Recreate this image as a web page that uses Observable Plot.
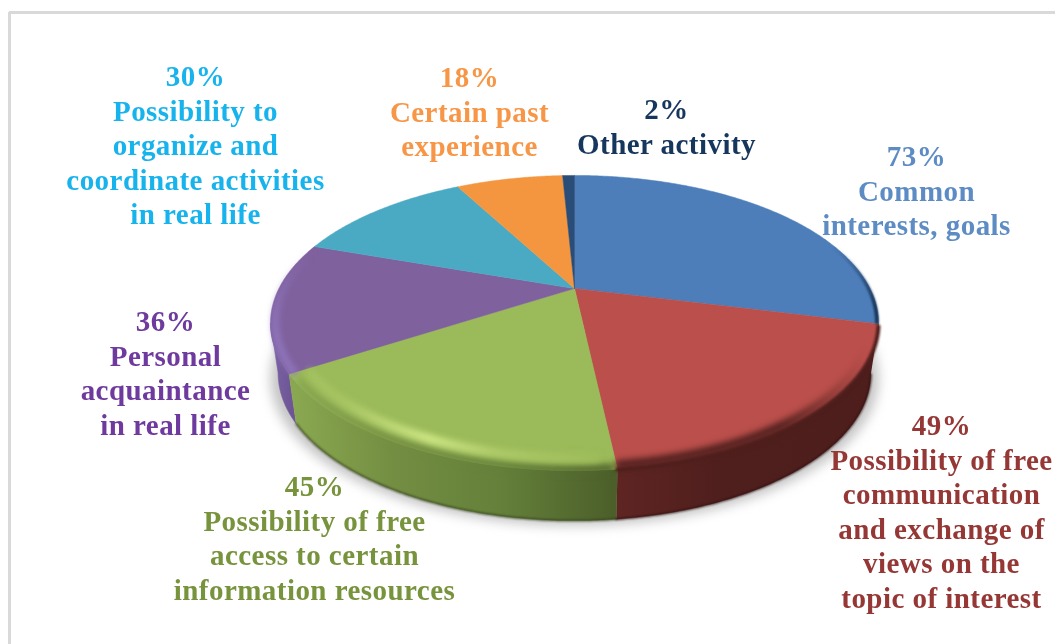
<!DOCTYPE html>
<html><head><meta charset="utf-8">
<script src="https://cdn.jsdelivr.net/npm/d3@7"></script>
<script src="https://cdn.jsdelivr.net/npm/@observablehq/plot@0.6"></script>
<style>
html,body{margin:0;padding:0;background:#fff;overflow:hidden}
#c svg{display:block;filter:blur(.5px)}
.shadow{filter:blur(6px)}
.soft{filter:blur(3.2px)}
.softer{filter:blur(1.2px)}
.lbl{letter-spacing:.45px}
</style></head><body><div id="c"></div>
<script>
const categories = [
  "Common\ninterests, goals",
  "Possibility of free\ncommunication\nand exchange of\nviews on the\ntopic of interest",
  "Possibility of free\naccess to certain\ninformation resources",
  "Personal\nacquaintance\nin real life",
  "Possibility to\norganize and\ncoordinate activities\nin real life",
  "Certain past\nexperience",
  "Other activity"
];
const values = [73, 49, 45, 36, 30, 18, 2];
const topColors = ["#4d7eba","#bb4f4b","#9bba59","#7f619e","#4aaac3","#f4963f","#2a4d78"];
const textColors = ["#5d8cc4","#953735","#77933c","#6f3a9e","#17b3ec","#f79646","#17365d"];
const labelX = [916, 941, 314, 165, 195, 469, 666];
const labelY = [158, 427, 488, 323, 78, 79, 111];

// Perspective disc geometry
const W = 1055, H = 644, cx = 574, cy = 288, A = 295.6, B = 139.5, p = 0.234, depth = 50, baseScale = 0.975;
const rad = d => d * Math.PI / 180;
const rim = (deg, r = 1, down = 0, s = 1) => {
  const t = rad(deg), w = 1 + p * r * Math.cos(t);
  return {x: cx + s * A * r * Math.sin(t) / w, y: cy + down - B * r * Math.cos(t) / w};
};
const arc = (a, b, r = 1, down = 0, s = 1) => {
  const n = Math.max(2, Math.ceil(Math.abs(b - a) * 2));
  return d3.range(n + 1).map(i => rim(a + (b - a) * i / n, r, down, s));
};
const total = d3.sum(values);
const cum = d3.cumsum(values).map(v => v / total * 360);
const start = i => i ? cum[i - 1] : 0;
const xy = {x: "x", y: "y"};

const sector = (i) => [{x: cx, y: cy}, ...arc(start(i), cum[i]), {x: cx, y: cy}];
const wall = (a, b) => [...arc(a, b), ...arc(b, a, 1, depth, baseScale)];
const leftLimit = 256.5;

const stops = (id, x1, y1, x2, y2, list) => `<linearGradient id="${id}" gradientUnits="userSpaceOnUse" x1="${x1}" y1="${y1}" x2="${x2}" y2="${y2}">` +
  list.map(([o, c, a = 1]) => `<stop offset="${o}" stop-color="${c}" stop-opacity="${a}"/>`).join("") + `</linearGradient>`;

const defs = () => {
  const g = document.createElementNS("http://www.w3.org/2000/svg", "defs");
  g.innerHTML =
    stops("gw", 293, 0, 612, 0, [[0,"#8aa851"],[.3,"#748f42"],[.65,"#64803a"],[1,"#4c5f2a"]]) +
    stops("rw", 612, 0, 878, 0, [[0,"#5f2523"],[.4,"#4f1f1d"],[1,"#4d1e1c"]]) +
    stops("pw", 270, 0, 298, 0, [[0,"#7c62a6"],[1,"#695290"]]) +
    stops("gd", 293, 0, 612, 0, [[0,"#8aa851"],[.3,"#748f42"],[.65,"#64803a"],[1,"#4c5f2a"]]) +
    stops("gh", 295, 0, 612, 0, [[0,"#a3c060"],[.15,"#a8c563"],[.42,"#cfe886"],[.65,"#aeca68"],[1,"#9bba59"]]) +
    stops("rd", 780, 0, 865, 0, [[0,"#4f1f1d",1],[1,"#4f1f1d",0]]) +
    stops("ph", 0, 250, 0, 330, [[0,"#9379c2",0],[1,"#9379c2",1]]) +
    stops("bh", 0, 245, 0, 305, [[0,"#16314f",0],[1,"#16314f",1]]);
  return g;
};

const polygon = (pts, fill) => Plot.line(pts, {...xy, fill, stroke: fill, strokeWidth: .5});

const marks = [
  defs,
  Plot.ruleX([9], {y1: 12, y2: H, stroke: "#d9d9d9", strokeWidth: 3}),
  Plot.ruleY([12], {x1: 9, x2: W, stroke: "#d9d9d9", strokeWidth: 3}),
  // ground shadow
  Plot.line(arc(90, 280, 1, depth + 5, 1.0), {...xy, fill: "#c4c4c4", stroke: "none", className: "shadow"}),
  // side walls
  polygon(wall(start(3), leftLimit), "url(#pw)"),
  polygon(wall(start(1), cum[1]), "url(#rw)"),
  polygon(wall(start(2), cum[2]), "url(#gw)"),
  Plot.line(arc(start(2), cum[2], 1, depth, baseScale), {...xy, stroke: "#33401b", strokeWidth: 1.5, className: "softer"}),
  Plot.line(arc(start(1), cum[1], 1, depth, baseScale), {...xy, stroke: "#2e100f", strokeWidth: 1.5, className: "softer"}),
  // top surface
  ...values.map((_, i) => polygon(sector(i), topColors[i])),
  // rounded bevels
  Plot.line(arc(start(2) + 1, cum[2] - 3, .985, 2), {...xy, stroke: "url(#gd)", strokeWidth: 8, className: "soft"}),
  Plot.line(arc(start(2) + 3, cum[2] - 2, .945), {...xy, stroke: "url(#gh)", strokeWidth: 9, className: "soft"}),
  Plot.line(arc(start(3), 290, .985), {...xy, stroke: "url(#ph)", strokeWidth: 6, className: "soft"}),
  Plot.line(arc(start(1) + 1, cum[1], 1), {...xy, stroke: "#4f1f1d", strokeWidth: 4, className: "softer"}),
  Plot.line(arc(start(1) + 4, cum[1] - .5, .982), {...xy, stroke: "url(#rd)", strokeWidth: 9, className: "soft"}),
  Plot.line(arc(60, cum[0] - .5, .995), {...xy, stroke: "url(#bh)", strokeWidth: 3.5, className: "softer"}),
  // labels
  Plot.text(values.map((v, i) => ({v, i})), {
    x: d => labelX[d.i],
    y: d => labelY[d.i],
    text: d => `${d.v}%\n${categories[d.i]}`,
    fill: d => textColors[d.i],
    lineAnchor: "top",
    dy: -17,
    textAnchor: "middle",
    fontFamily: "Liberation Serif",
    fontWeight: 700,
    fontSize: 29,
    lineHeight: 1.19,
    className: "lbl"
  })
];

document.getElementById("c").append(Plot.plot({
  width: W, height: H, margin: 0,
  x: {axis: null, domain: [0, W], range: [0, W]},
  y: {axis: null, domain: [0, H], range: [0, H]},
  color: {type: "identity"},
  style: {background: "#fff"},
  marks
}));
</script></body></html>
